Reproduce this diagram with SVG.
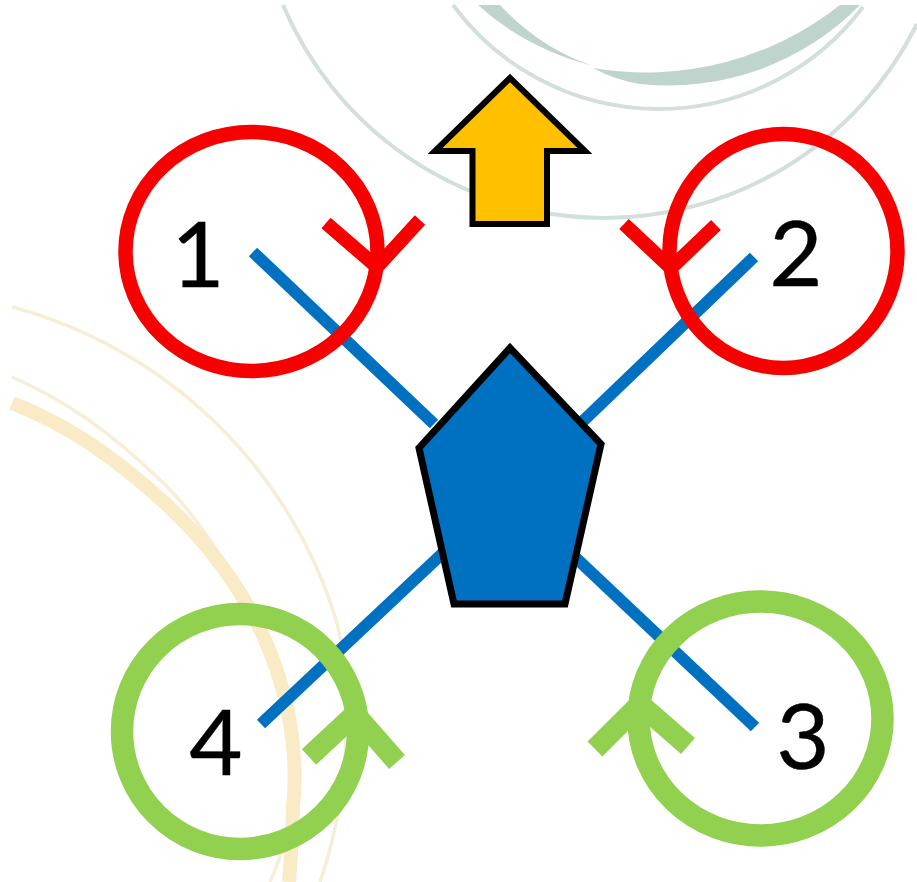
<svg xmlns="http://www.w3.org/2000/svg" width="917" height="882" viewBox="0 0 917 882">
<style>
.bg{fill:none;stroke-linecap:butt}
.gr{stroke:#d3dfdb;stroke-width:4}
.gf{fill:#bfd4cc}
.ye{stroke:#f6efd6;stroke-width:3.5}
.yt{stroke:#f8ebc6;stroke-width:14}
.arm{stroke:#0070c0;stroke-width:12;fill:none}
.red{stroke:#f60000;fill:none;stroke-width:14.5}
.redc{stroke:#f60000;fill:none;stroke-width:14}
.grn{stroke:#92d050;fill:none;stroke-width:22.5}
.grnc{stroke:#92d050;fill:none;stroke-width:21}
text{font-family:Lato,"Open Sans","Liberation Sans",sans-serif;font-size:92px;fill:#000;stroke:#000;stroke-width:.4;text-anchor:middle}
</style>
<rect width="917" height="882" fill="#fff"/>
<g id="background-arcs">
<path class="bg gr" d="M283 5A349 349 0 0 0 917 24"/>
<path class="bg gr" d="M453 5A255.5 255.5 0 0 0 863 7"/>
<path class="gf" d="M593 68A313 313 0 0 0 840 5L860 5A268 268 0 0 1 640 84Q615 80 593 68Z"/>
<path class="gf" d="M478 5Q525 48 593 66Q540 48 500 5Z"/>
<path class="bg ye" d="M12 307A465 465 0 0 1 337 623C352 680 352 790 320 882"/>
<path class="bg ye" d="M12 377C65 400 110 432 157 477C215 530 285 650 292 760C294 810 285 850 270 882"/>
<path class="bg yt" d="M12 403C50 418 85 438 117 463C150 488 180 515 207 547C230 575 248 603 262 633C275 662 285 692 290 723C295 752 296 780 293 807C292 835 291 860 289 882"/>
</g>
<g id="connectors">
<line class="arm" x1="253" y1="252" x2="434" y2="424"/>
<line class="arm" x1="754" y1="257" x2="580" y2="424"/>
<line class="arm" x1="755" y1="727" x2="576" y2="558"/>
<line class="arm" x1="261" y1="724" x2="444" y2="552"/>
</g>
<g id="heading-arrow">
<path d="M510 78L435 151H472.5V224H547V151H585Z" fill="#ffc000" stroke="#000" stroke-width="6"/>
</g>
<g id="body">
<path d="M510 348L601 444L565 604H454L419 448Z" fill="#0070c0" stroke="#000" stroke-width="7"/>
</g>
<g id="rotor-1">
<path class="redc" d="M326 223L377 267L420 220"/>
<ellipse class="red" cx="251.500" cy="251.500" rx="126" ry="119.500"/>
<text x="198" y="287">1</text>
</g>
<g id="rotor-2">
<path class="redc" d="M624 224L671 268L716 225"/>
<ellipse class="red" cx="783.500" cy="251" rx="114" ry="117"/>
<text x="796" y="286">2</text>
</g>
<g id="rotor-3">
<path class="grnc" d="M595 749L640 704L688 746"/>
<ellipse class="grn" cx="760.500" cy="718.500" rx="122" ry="117"/>
<text x="803" y="769">3</text>
</g>
<g id="rotor-4">
<path class="grnc" d="M309 757L355 714L397 762"/>
<ellipse class="grn" cx="240" cy="731.500" rx="118" ry="117.500"/>
<text x="216" y="775">4</text>
</g>
</svg>
